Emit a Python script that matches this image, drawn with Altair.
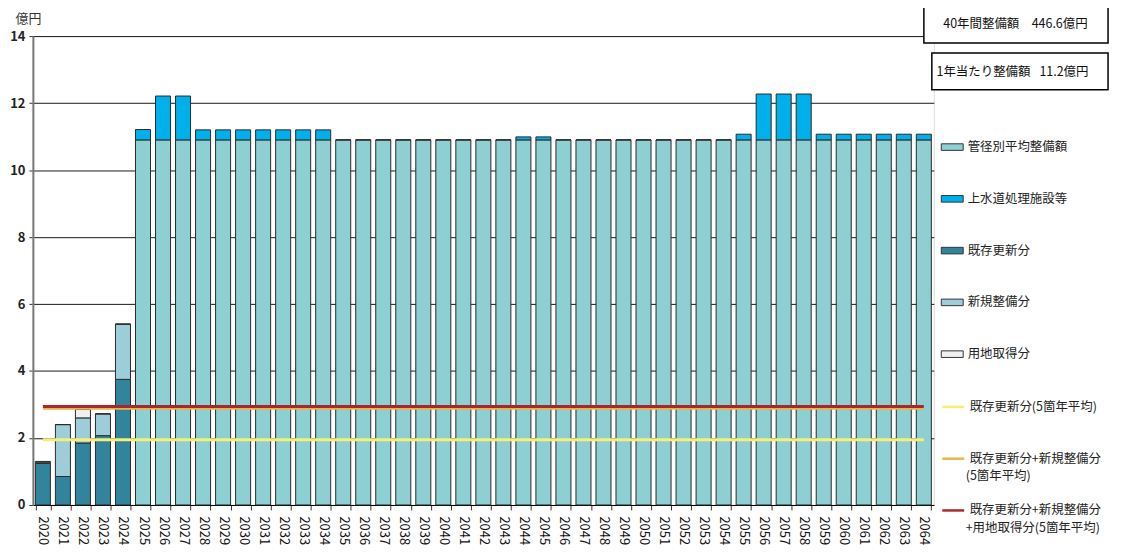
import altair as alt
import pandas as pd

# ---- data ----
years = [str(y) for y in range(2020, 2065)]

# 2020-2024 actual components (億円)
early_years = ["2020", "2021", "2022", "2023", "2024"]
kizon = [1.24, 0.85, 1.85, 2.07, 3.75]      # 既存更新分
shinki = [0.04, 1.55, 0.75, 0.65, 1.65]     # 新規整備分
youchi = [0.02, 0.00, 0.25, 0.00, 0.00]     # 用地取得分

# 2025-2064 plan components
late_years = [str(y) for y in range(2025, 2065)]
kankei = [10.9] * 40                          # 管径別平均整備額
jousui = [0.31, 1.31, 1.31, 0.30, 0.30, 0.30, 0.30, 0.30, 0.30, 0.30,
          0.00, 0.00, 0.00, 0.00, 0.00, 0.00, 0.00, 0.00, 0.00,
          0.09, 0.09,
          0.00, 0.00, 0.00, 0.00, 0.00, 0.00, 0.00, 0.00, 0.00,
          0.17, 1.37, 1.37, 1.37,
          0.17, 0.17, 0.17, 0.17, 0.17, 0.17]  # 上水道処理施設等

# 5-year average lines
avg1 = [1.95] * 45   # 既存更新分(5箇年平均)
avg2 = [2.89] * 45   # 既存更新分+新規整備分(5箇年平均)
avg3 = [2.94] * 45   # 既存更新分+新規整備分+用地取得分(5箇年平均)

bar_names = ["管径別平均整備額", "上水道処理施設等", "既存更新分", "新規整備分", "用地取得分"]
bar_colors = ["#8DCFD3", "#00B0EA", "#31849B", "#9CCDD9", "#F0F0F0"]
line_names = ["既存更新分(5箇年平均)", "既存更新分+新規整備分\n(5箇年平均)",
              "既存更新分+新規整備分\n+用地取得分(5箇年平均)"]
line_colors = ["#F5EF78", "#E6B44C", "#A8282C"]
second_lines = ["(5箇年平均)", "+用地取得分(5箇年平均)"]

box1_text = "40年間整備額　446.6億円"
box2_text = "1年当たり整備額\u2002 11.2億円"

# ---- tables ----
rows = []
for i, y in enumerate(early_years):
    rows.append({"year": y, "cat": "既存更新分", "value": kizon[i], "ord": 0})
    rows.append({"year": y, "cat": "新規整備分", "value": shinki[i], "ord": 1})
    rows.append({"year": y, "cat": "用地取得分", "value": youchi[i], "ord": 2})
for i, y in enumerate(late_years):
    rows.append({"year": y, "cat": "管径別平均整備額", "value": kankei[i], "ord": 0})
    rows.append({"year": y, "cat": "上水道処理施設等", "value": jousui[i], "ord": 1})
bars_df = pd.DataFrame(rows)

lrows = []
for name, vals in zip(line_names, [avg1, avg2, avg3]):
    for y, v in zip(years, vals):
        lrows.append({"year": y, "series": name, "value": v})
lines_df = pd.DataFrame(lrows)

FONT = "Noto Sans CJK JP"

x_enc = alt.X("year:N", sort=years, title=None,
              scale=alt.Scale(domain=years, paddingInner=0.25, paddingOuter=0.125),
              axis=alt.Axis(labelAngle=90, labelAlign="left", labelBaseline="middle",
                            labelFontSize=13, labelColor="#111", labelPadding=6,
                            tickBand="extent", tickSize=5, tickColor="#333",
                            domainColor="#000", grid=False, labelFont=FONT))
y_scale = alt.Scale(domain=[0, 14], nice=False)

bars = alt.Chart(bars_df).mark_bar(stroke="#2a2a2a", strokeWidth=1).encode(
    x=x_enc,
    y=alt.Y("value:Q", stack="zero", scale=y_scale,
            axis=alt.Axis(values=[0, 2, 4, 6, 8, 10, 12, 14], title="億円",
                          titleAngle=0, titleAlign="left", titleBaseline="middle",
                          titleX=-18, titleY=-18, titleFont=FONT, titleFontSize=13,
                          titleFontWeight="normal", titleColor="#333",
                          labelFont=FONT, labelFontSize=13, labelColor="#222",
                          labelFontWeight="bold", labelPadding=4,
                          tickSize=4, tickColor="#333",
                          domainColor="#777", domainWidth=2,
                          grid=True, gridColor="#1a1a1a", gridWidth=1)),
    fill=alt.Fill("cat:N", scale=alt.Scale(domain=bar_names, range=bar_colors),
                  legend=alt.Legend(title=None, orient="none", legendX=912, legendY=100,
                                    symbolType="M-1,-0.3H1V0.3H-1Z", symbolSize=484,
                                    symbolStrokeColor="#333", symbolStrokeWidth=1,
                                    rowPadding=34, labelFont=FONT, labelFontSize=12.5,
                                    labelColor="#222", labelOffset=4)),
    order=alt.Order("ord:Q", sort="ascending"),
)

lines = alt.Chart(lines_df).mark_line(strokeWidth=3).encode(
    x=alt.X("year:N", sort=years),
    y=alt.Y("value:Q", scale=y_scale),
    stroke=alt.Stroke("series:N", scale=alt.Scale(domain=line_names, range=line_colors),
                      legend=alt.Legend(title=None, orient="none", legendX=912, legendY=360,
                                        symbolType="stroke", symbolSize=484,
                                        symbolStrokeWidth=2.5,
                                        rowPadding=33, labelFont=FONT, labelFontSize=12.5,
                                        labelColor="#222", labelOffset=4,
                                        labelExpr="split(datum.label, '\\n')[0]")),
    detail="series:N",
)

sl1 = pd.DataFrame({"t": [second_lines[0]]})
sl2 = pd.DataFrame({"t": [second_lines[1]]})
sub1 = alt.Chart(sl1).mark_text(font=FONT, fontSize=12.5, color="#222", align="left",
                                baseline="middle").encode(
    x=alt.value(937), y=alt.value(442), text="t:N")
sub2 = alt.Chart(sl2).mark_text(font=FONT, fontSize=12.5, color="#222", align="left",
                                baseline="middle").encode(
    x=alt.value(937), y=alt.value(494), text="t:N")

one = pd.DataFrame({"t": [box1_text]})
two = pd.DataFrame({"t": [box2_text]})
box1 = alt.Chart(one).mark_rect(fill="white", stroke="#000", strokeWidth=1.5).encode(
    x=alt.value(895), x2=alt.value(1080), y=alt.value(-31), y2=alt.value(7))
text1 = alt.Chart(one).mark_text(font=FONT, fontSize=12.5, color="#111").encode(
    x=alt.value(987), y=alt.value(-12), text="t:N")
box2 = alt.Chart(two).mark_rect(fill="white", stroke="#000", strokeWidth=1.5).encode(
    x=alt.value(903), x2=alt.value(1080), y=alt.value(17), y2=alt.value(54))
text2 = alt.Chart(two).mark_text(font=FONT, fontSize=12.5, color="#111").encode(
    x=alt.value(984), y=alt.value(36), text="t:N")

chart = alt.layer(bars, lines, sub1, sub2, box1, text1, box2, text2).resolve_scale(
    fill="independent", stroke="independent"
).properties(
    width=905, height=471,
    autosize=alt.AutoSizeParams(type="none"),
    padding={"left": 25, "top": 27, "right": 185, "bottom": 40},
).configure_view(stroke="#000", strokeWidth=1).configure(font=FONT)

chart.save("out.html", embed_options={"renderer": "svg", "actions": False})
